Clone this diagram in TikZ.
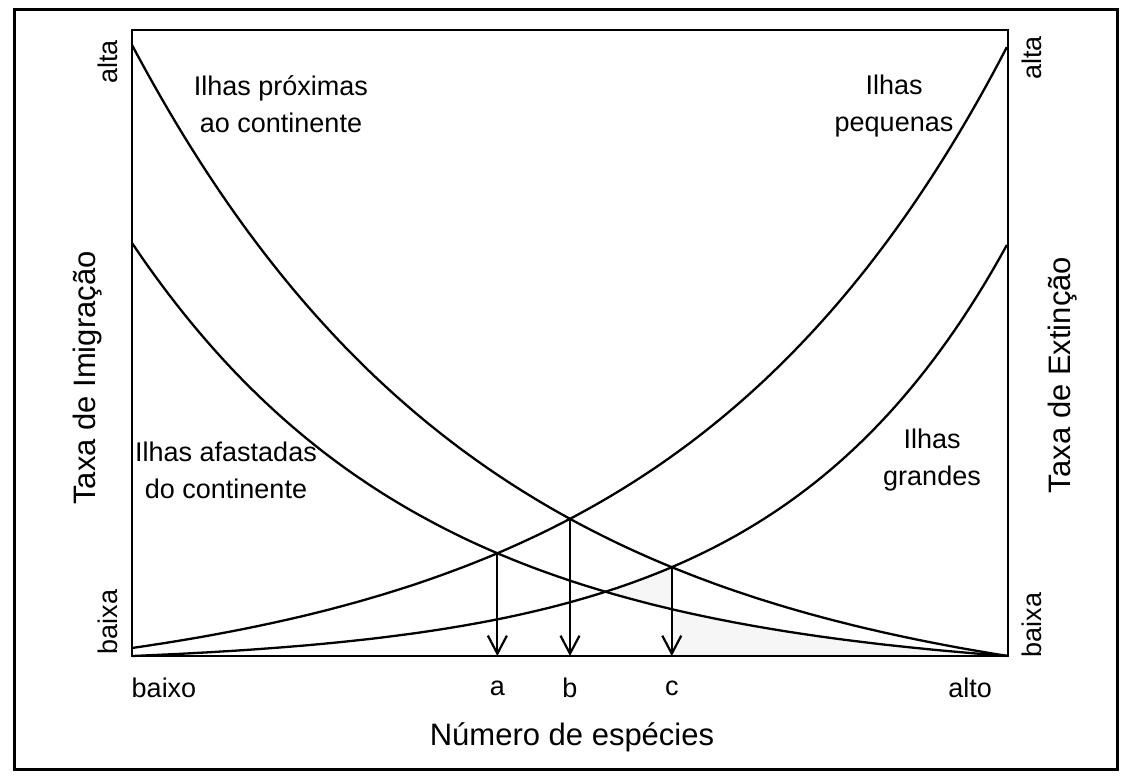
\documentclass[tikz,border=0pt]{standalone}
\usepackage{fontspec}
\setmainfont{Liberation Sans}
\usetikzlibrary{arrows.meta,intersections}

% the four rate curves (pixel grid, y downwards)
\def\imnear{plot[domain=0:1,samples=120] ({132+876*\x},{656-611*(exp(-2.48*\x)-exp(-2.48))/(1-exp(-2.48))})}
\def\imfar{plot[domain=0:1,samples=120] ({132+876*\x},{656-413*(exp(-3*\x)-exp(-3))/(1-exp(-3))})}
\def\exsmall{plot[domain=0:1,samples=120] ({132+876*\x},{648-603*(exp(-2.6*(1-\x))-exp(-2.6))/(1-exp(-2.6))})}
\def\exlarge{plot[domain=0:1,samples=120] ({132+876*\x},{656-413*(exp(-3.8*(1-\x))-exp(-3.8))/(1-exp(-3.8))})}

\tikzset{
  curve/.style={line width=1.15pt,black},
  drop/.style={line width=1.1pt,-{Straight Barb[length=9pt,width=9.5pt,line width=1.1pt]}},
  lbl/.style={font=\fontsize{13.5}{18.5}\selectfont,align=center,inner sep=0pt},
  ttl/.style={font=\fontsize{15.5}{18}\selectfont,inner sep=0pt},
}

\begin{document}
\begin{tikzpicture}[x=0.5pt,y=-0.5pt]

    \useasboundingbox (0,0) rectangle (1122,776);
    \fill[white] (0,0) rectangle (1122,776);
    \draw[line width=1.5pt] (14,9) rectangle (1117,769);

    \coordinate (top) at (132,30);
    \coordinate (base) at (132,656);

    \path[name path=near] \imnear;
    \path[name path=far] \imfar;
    \path[name path=small] \exsmall;
    \path[name path=large] \exlarge;

    \path[name intersections={of=far and small,by=ia}];
    \path[name intersections={of=near and small,by=ib}];
    \path[name intersections={of=near and large,by=ic}];
    \path[name intersections={of=far and large,by=id}];

    % light grey zone
    \begin{scope}
        \clip (id |- top) rectangle (ic |- base);
        \clip \exlarge -- (1008,656) -- (132,656) -- cycle;
        \fill[gray!7] \imfar -- (1008,30) -- (132,30) -- cycle;
    \end{scope}
    \begin{scope}
        \clip (ic |- top) rectangle (1008,656);
        \fill[gray!7] \imfar -- (132,656) -- cycle;
    \end{scope}

    \draw[line width=1.1pt] (top) rectangle (1008,656);

    \draw[curve] \imnear;
    \draw[curve] \imfar;
    \draw[curve] \exsmall;
    \draw[curve] \exlarge;

    \draw[drop] (ia) -- (ia |- base);
    \draw[drop] (ib) -- (ib |- base);
    \draw[drop] (ic) -- (ic |- base);

    \node[lbl] (lnear) at (281,104) {Ilhas próximas\\ao continente};
    \node[lbl] (lfar) at (226,470) {Ilhas afastadas\\do continente};
    \node[lbl] (lsmall) at (894,106) {Ilhas\\pequenas};
    \node[lbl] (llarge) at (932,460) {Ilhas\\grandes};

    \node[lbl,rotate=90] (althi) at (108,62) {alta};
    \node[lbl,rotate=90] (altlo) at (108,622) {baixa};
    \node[lbl,rotate=90] (exthi) at (1032,58) {alta};
    \node[lbl,rotate=90] (extlo) at (1032,625) {baixa};

    \node[ttl,rotate=90] (yleft) at (88,378) {Taxa de Imigração};
    \node[ttl,rotate=90] (yright) at (1063,375) {Taxa de Extinção};

    \node[lbl] (xlo) at (164,688) {baixo};
    \node[lbl] (xhi) at (970,688) {alto};
    \node[lbl] (xa) at (ia |- 0,688) {a};
    \node[lbl] (xb) at (ib |- 0,688) {b};
    \node[lbl] (xc) at (ic |- 0,688) {c};
    \node[ttl] (xttl) at (572,737) {Número de espécies};

\end{tikzpicture}
\end{document}
